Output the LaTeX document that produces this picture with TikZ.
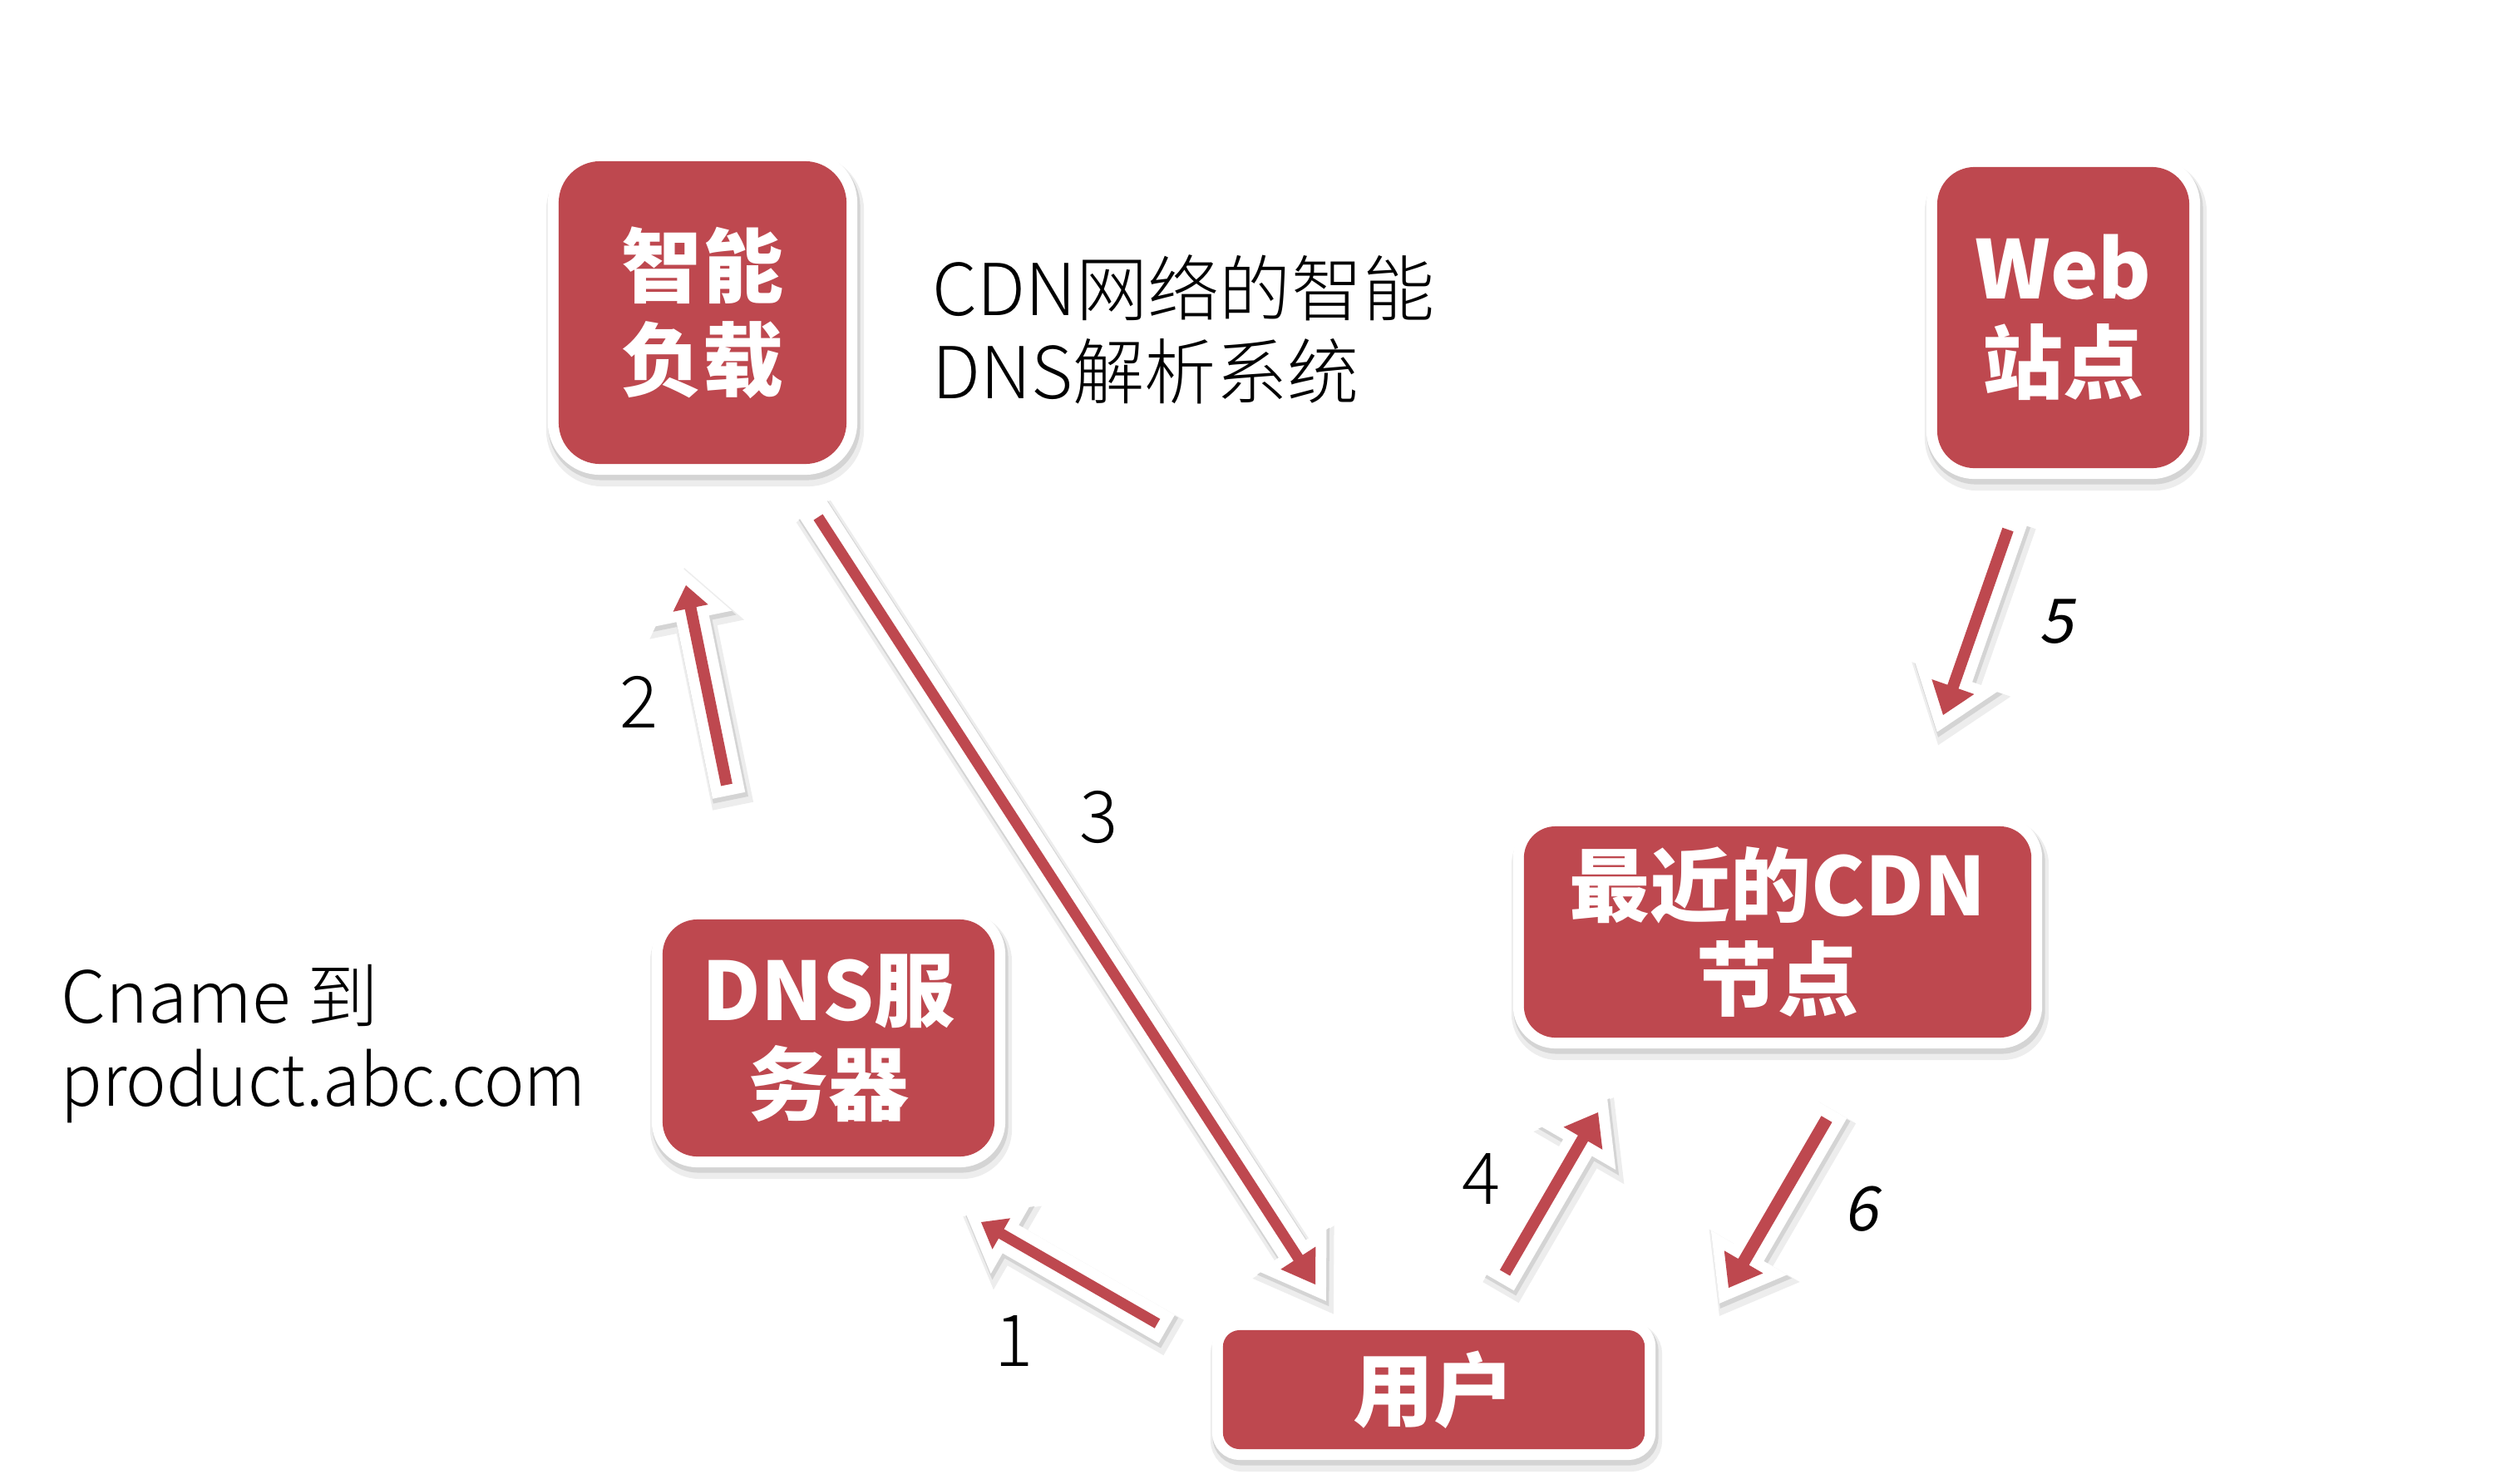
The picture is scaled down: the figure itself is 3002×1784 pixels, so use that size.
\documentclass[tikz,border=0pt]{standalone}
\usepackage{fontspec}
\setmainfont{Noto Sans CJK SC}
\newfontfamily\lightfont{Noto Sans CJK SC Light}
\newfontfamily\lightnarrow[FakeStretch=0.95]{Noto Sans CJK SC Light}
\newfontfamily\slantfont[FakeSlant=0.2]{Noto Sans CJK SC}
\usetikzlibrary{calc}
\definecolor{cdnred}{RGB}{190,72,79}
\tikzset{
  cdnbox/.style={rectangle, rounded corners=#1, fill=cdnred, text=white, inner sep=0pt,
    align=center, font=\fontsize{27.6pt}{32pt}\selectfont\bfseries,
    preaction={draw=black!7, fill=black!7, line width=0.36cm, transform canvas={shift={(3,9)}}},
    preaction={draw=black!17, fill=black!17, line width=0.29cm, transform canvas={shift={(2,5)}}},
    preaction={draw=white, line width=0.26cm}},
  arrowbody/.style={fill=cdnred,
    preaction={draw=black!7, fill=black!7, line width=0.36cm, line join=miter, transform canvas={shift={(4,8)}}},
    preaction={draw=black!17, fill=black!17, line width=0.29cm, line join=miter, transform canvas={shift={(2,4)}}},
    preaction={draw=white, fill=white, line width=0.26cm, line join=miter}},
  lbl/.style={font=\lightfont\fontsize{24.5pt}{28.3pt}\selectfont, inner sep=0pt, align=left},
  num/.style={font=\lightfont\fontsize{24.5pt}{28pt}\selectfont, inner sep=0pt},
  slnum/.style={font=\slantfont\fontsize{21pt}{24pt}\selectfont, inner sep=0pt}
}
% #1 arrow name, #2 half shaft width, #3 head length, #4 half head width
\newcommand\cdnarrow[4]{%
  \coordinate (#1h) at ($(#1p)!#3!(#1t)$);
  \path[arrowbody] ($(#1t)!#2!90:(#1p)$) -- ($(#1h)!#2!90:(#1p)$) -- ($(#1h)!#4!90:(#1p)$)
    -- (#1p) -- ($(#1h)!#4!-90:(#1p)$) -- ($(#1h)!#2!-90:(#1p)$) -- ($(#1t)!#2!-90:(#1p)$) -- cycle;
}
\begin{document}
\begin{tikzpicture}[x=0.01cm, y=-0.01cm]
\useasboundingbox (0,0) rectangle (3002,1784);

% boxes
\node[cdnbox=0.50cm, minimum width=3.46cm, minimum height=3.64cm] (load) at (845,376) {智能\\负载};
\node[cdnbox=0.45cm, minimum width=3.03cm, minimum height=3.62cm] (web) at (2481.5,382) {Web\\站点};
\node[cdnbox=0.38cm, minimum width=6.10cm, minimum height=2.54cm] (cdn) at (2138,1121) {最近的CDN\\节点};
\node[cdnbox=0.42cm, minimum width=3.99cm, minimum height=2.85cm] (dns) at (996.5,1248.5) {DNS服\\务器};
\node[cdnbox=0.20cm, minimum width=5.07cm, minimum height=1.43cm] (user) at (1724.5,1671.5) {用户};

% arrow end points
\coordinate (a1t) at (1392,1592);
\coordinate (a1p) at (1180,1470);
\coordinate (a2t) at (874,944);
\coordinate (a2p) at (825,704);
\coordinate (a3t) at (984,622);
\coordinate (a3p) at (1582,1545);
\coordinate (a4t) at (1810,1531);
\coordinate (a4p) at (1922,1338);
\coordinate (a5t) at (2415,637);
\coordinate (a5p) at (2337,860);
\coordinate (a6t) at (2197,1346);
\coordinate (a6p) at (2079,1549);

\cdnarrow{a1}{0.065cm}{0.28cm}{0.215cm}
\cdnarrow{a2}{0.07cm}{0.28cm}{0.215cm}
\cdnarrow{a3}{0.065cm}{0.38cm}{0.25cm}
\cdnarrow{a4}{0.07cm}{0.36cm}{0.27cm}
\cdnarrow{a5}{0.07cm}{0.36cm}{0.27cm}
\cdnarrow{a6}{0.075cm}{0.36cm}{0.27cm}

% texts
\node[lbl, anchor=north west] (dnstext) at (1121,306) {CDN网络的智能\\DNS解析系统};
\node[lbl, anchor=north west] (cname) at (73,1160) {Cname 到\\{\lightnarrow product.abc.com}};

\node[num] (n1) at (1220,1613) {1};
\node[num] (n2) at (769,844) {2};
\node[num] (n3) at (1322,983) {3};
\node[num] (n4) at (1782,1418) {4};
\node[slnum] (n5) at (2473,748) {5};
\node[slnum] (n6) at (2238,1454) {6};
\end{tikzpicture}
\end{document}
